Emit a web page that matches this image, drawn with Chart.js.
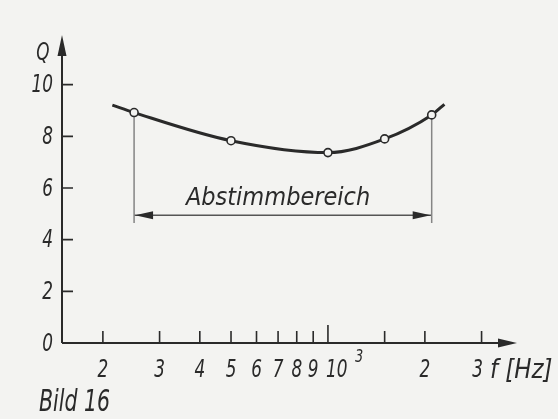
<!DOCTYPE html>
<html>
<head>
<meta charset="utf-8">
<script src="https://cdn.jsdelivr.net/npm/chart.js@4.4.1/dist/chart.umd.min.js"></script>
<style>
  html, body { margin: 0; padding: 0; background: #f3f3f1; }
  #c { display: block; }
</style>
</head>
<body>
<canvas id="c" width="558" height="419"></canvas>
<script>
// Messpunkte (Kreise) und Kurvenverlauf
const freqMeasured = [250, 500, 1000, 1500, 2100];
const qMeasured = [8.92, 7.83, 7.37, 7.90, 8.83];
const freqCurve = [214, 250, 500, 1000, 1500, 2100, 2300];
const qCurve = [9.21, 8.92, 7.83, 7.37, 7.90, 8.83, 9.24];

// Abstimmbereich
const rangeFreq = [250, 2100];
const rangeQ = 4.95;
const rangeLineBottom = 4.65;
const rangeLabel = "Abstimmbereich";
const rangeLabelAt = [700, 5.61];

// Achsen
const xTickValues = [200, 300, 400, 500, 600, 700, 800, 900, 1000, 1500, 2000, 3000];
const xTickLabels = ["2", "3", "4", "5", "6", "7", "8", "9", "10³", "", "2", "3"];
const yTickValues = [0, 2, 4, 6, 8, 10];
const yTickLabels = ["0", "2", "4", "6", "8", "10"];

const ink = "#2a2a2a";
const thin = "#858585";
const paper = "#f3f3f1";
const fam = '"DejaVu Sans Condensed", "DejaVu Sans", sans-serif';

function arrowHead(ctx, x, y, dx, dy, len, half) {
  // dx,dy: Richtung der Spitze
  ctx.beginPath();
  ctx.moveTo(x, y);
  ctx.lineTo(x - dx * len - dy * half, y - dy * len + dx * half);
  ctx.lineTo(x - dx * len + dy * half, y - dy * len - dx * half);
  ctx.closePath();
  ctx.fill();
}

// schmale Normschrift: horizontal gestaucht
function label(ctx, str, x, y, size, align, sx) {
  ctx.save();
  ctx.translate(x, y);
  ctx.scale(sx, 1);
  ctx.font = "italic " + size + "px " + fam;
  ctx.textAlign = align;
  ctx.textBaseline = "middle";
  ctx.fillText(str, 0, 0);
  ctx.restore();
}

const sketch = {
  id: "sketch",
  beforeDatasetsDraw(chart) {
    const { ctx, chartArea: a, scales: { x, y } } = chart;
    ctx.save();
    ctx.strokeStyle = ink;
    ctx.fillStyle = ink;
    ctx.lineWidth = 2;

    // Achsenlinien
    ctx.beginPath();
    ctx.moveTo(a.left, a.bottom);
    ctx.lineTo(a.left, a.top + 10);
    ctx.moveTo(a.left, a.bottom);
    ctx.lineTo(a.right - 10, a.bottom);
    ctx.stroke();
    arrowHead(ctx, a.left, a.top + 2, 0, -1, 21, 4.5);
    arrowHead(ctx, a.right, a.bottom, 1, 0, 19, 4.5);

    // Teilstriche
    ctx.lineWidth = 1.6;
    ctx.beginPath();
    yTickValues.forEach(v => {
      const py = y.getPixelForValue(v);
      if (v === 0) return;
      ctx.moveTo(a.left, py);
      ctx.lineTo(a.left + 11, py);
    });
    xTickValues.forEach(v => {
      const px = x.getPixelForValue(v);
      ctx.moveTo(px, a.bottom);
      ctx.lineTo(px, a.bottom - (v === 1000 ? 18 : 12));
    });
    ctx.stroke();

    // Beschriftung
    yTickValues.forEach((v, i) => {
      label(ctx, yTickLabels[i], 53, y.getPixelForValue(v) + 1, 25, "right", 0.75);
    });
    xTickValues.forEach((v, i) => {
      const lab = xTickLabels[i];
      const px = x.getPixelForValue(v);
      if (lab === "10³") {
        label(ctx, "10", px - 2, 370, 25, "left", 0.75);
        label(ctx, "3", px + 27, 357, 18, "left", 0.8);
      } else if (lab) {
        label(ctx, lab, v === 3000 ? px - 4 : px, 370, 25, "center", 0.75);
      }
    });
    label(ctx, "Q", 43, 53, 25, "center", 0.75);
    label(ctx, "f [Hz]", 490, 371, 26, "left", 0.98);
    label(ctx, "Bild 16", 39, 403, 30, "left", 0.76);
    ctx.restore();
  },
  afterDatasetsDraw(chart) {
    const { ctx, scales: { x, y } } = chart;
    ctx.save();
    ctx.fillStyle = ink;
    const py = y.getPixelForValue(rangeQ);
    arrowHead(ctx, x.getPixelForValue(rangeFreq[0]) + 1, py, -1, 0, 18, 4);
    arrowHead(ctx, x.getPixelForValue(rangeFreq[1]) - 1, py, 1, 0, 18, 4);
    label(ctx, rangeLabel, x.getPixelForValue(rangeLabelAt[0]), y.getPixelForValue(rangeLabelAt[1]), 25, "center", 1.0);
    ctx.restore();
  }
};

const toXY = (xs, ys) => xs.map((f, i) => ({ x: f, y: ys[i] }));

new Chart(document.getElementById("c"), {
  type: "scatter",
  data: {
    datasets: [
      {
        data: toXY(freqMeasured, qMeasured),
        showLine: false,
        pointRadius: 4,
        pointBorderWidth: 1.6,
        pointBorderColor: ink,
        pointBackgroundColor: paper,
        order: 0
      },
      {
        data: toXY(freqCurve, qCurve),
        showLine: true,
        borderColor: ink,
        borderWidth: 3,
        pointRadius: 0,
        cubicInterpolationMode: "monotone",
        order: 1
      },
      {
        data: [{ x: rangeFreq[0], y: qMeasured[0] }, { x: rangeFreq[0], y: rangeLineBottom }],
        showLine: true,
        borderColor: thin,
        borderWidth: 1.5,
        pointRadius: 0,
        order: 2
      },
      {
        data: [{ x: rangeFreq[1], y: qMeasured[4] }, { x: rangeFreq[1], y: rangeLineBottom }],
        showLine: true,
        borderColor: thin,
        borderWidth: 1.5,
        pointRadius: 0,
        order: 2
      },
      {
        data: [{ x: rangeFreq[0], y: rangeQ }, { x: rangeFreq[1], y: rangeQ }],
        showLine: true,
        borderColor: "#555",
        borderWidth: 1.5,
        pointRadius: 0,
        order: 2
      }
    ]
  },
  options: {
    responsive: false,
    animation: false,
    devicePixelRatio: 1,
    layout: { padding: { left: 62, right: 41, top: 33, bottom: 76 } },
    plugins: { legend: { display: false }, tooltip: { enabled: false } },
    scales: {
      x: { type: "logarithmic", min: 149.3, max: 3865, display: false },
      y: { type: "linear", min: 0, max: 12, display: false }
    }
  },
  plugins: [sketch]
});
</script>
</body>
</html>
